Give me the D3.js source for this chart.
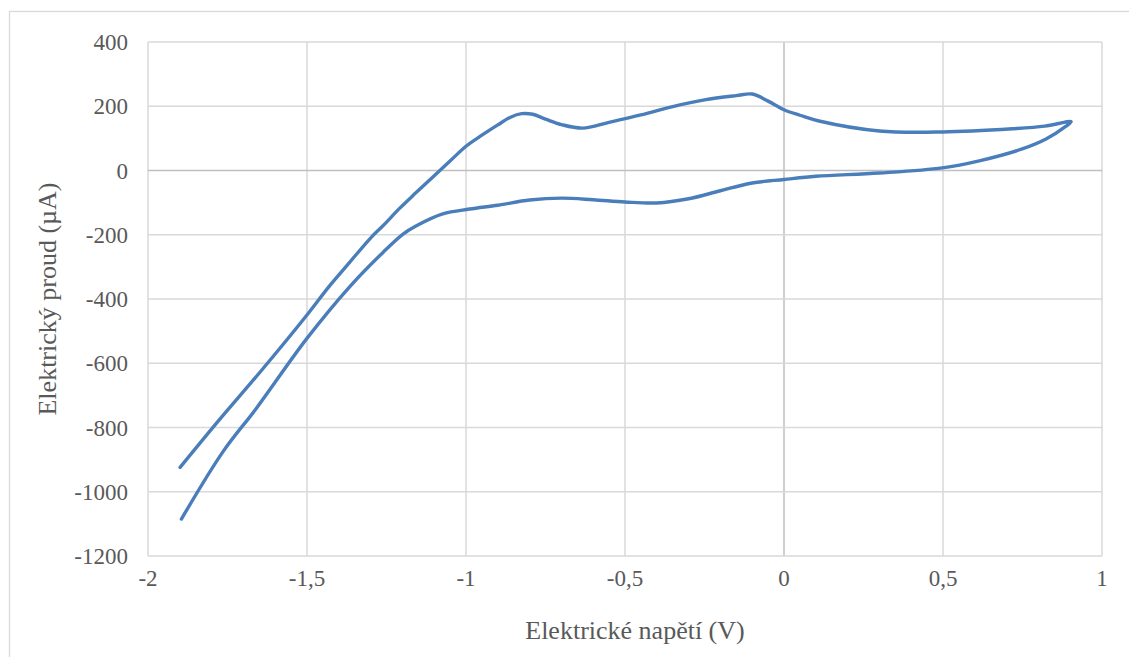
<html>
<head>
<meta charset="utf-8">
<title>Elektrický proud vs napětí</title>
<script src="https://d3js.org/d3.v7.min.js" charset="utf-8"></script>
<style>
body { margin: 0; background: white; }
text { font-family: "Liberation Serif", "Tinos", "Times New Roman", "DejaVu Serif", serif; }
</style>
</head>
<body>
<script>
// forward scan (upper branch), left -> right
var upperX = [-1.899, -1.774, -1.648, -1.502, -1.429, -1.366, -1.298, -1.261, -1.209, -1.156, -1.052, -0.998, -0.950, -0.900, -0.860, -0.825, -0.790, -0.750, -0.700, -0.633, -0.550, -0.450, -0.350, -0.250, -0.150, -0.100, -0.050, 0.000, 0.050, 0.110, 0.300, 0.498, 0.718, 0.820, 0.903];
var upperY = [-924, -774, -628, -452, -359, -286, -208, -172, -118, -68, 28, 77, 110, 142, 166, 177, 175, 160, 143, 132, 150, 173, 199, 220, 233, 238, 216, 189, 172, 154, 123, 120, 130, 138, 152];
// reverse scan (lower branch), right -> left
var lowerX = [0.887, 0.824, 0.749, 0.614, 0.498, 0.300, 0.100, 0.000, -0.100, -0.200, -0.300, -0.400, -0.500, -0.600, -0.700, -0.800, -0.900, -0.989, -1.073, -1.156, -1.198, -1.261, -1.366, -1.502, -1.659, -1.764, -1.895];
var lowerY = [138, 98, 67, 30, 8, -8, -18, -28, -39, -63, -88, -101, -98, -91, -86, -92, -108, -120, -135, -172, -198, -255, -362, -525, -740, -875, -1085];

var xTicks = [-2, -1.5, -1, -0.5, 0, 0.5, 1];
var yTicks = [-1200, -1000, -800, -600, -400, -200, 0, 200, 400];

var width = 1129, height = 657;
var plotL = 148, plotR = 1102, plotT = 42, plotB = 556;

var svg = d3.select("body").append("svg")
  .attr("width", width)
  .attr("height", height);

// chart frame
svg.append("rect")
  .attr("x", 9.5).attr("y", 11.5)
  .attr("width", 1140).attr("height", 660)
  .attr("fill", "white").attr("stroke", "#d9d9d9").attr("stroke-width", 1.3);

var x = d3.scaleLinear().domain([-2, 1]).range([plotL, plotR]);
var y = d3.scaleLinear().domain([-1200, 400]).range([plotB, plotT]);

var fmt = function(d) { return String(d).replace(".", ","); };

// gridlines
svg.append("g").selectAll("line")
  .data(xTicks).enter().append("line")
  .attr("x1", function(d) { return x(d); }).attr("x2", function(d) { return x(d); })
  .attr("y1", plotT).attr("y2", plotB)
  .attr("stroke", function(d) { return d === 0 ? "#bfbfbf" : "#d9d9d9"; })
  .attr("stroke-width", 1.5);

svg.append("g").selectAll("line")
  .data(yTicks).enter().append("line")
  .attr("x1", plotL).attr("x2", plotR)
  .attr("y1", function(d) { return y(d); }).attr("y2", function(d) { return y(d); })
  .attr("stroke", function(d) { return d === 0 ? "#bfbfbf" : "#d9d9d9"; })
  .attr("stroke-width", 1.5);

// tick labels
svg.append("g").selectAll("text")
  .data(yTicks).enter().append("text")
  .attr("x", plotL - 20).attr("y", function(d) { return y(d); })
  .attr("dy", "0.35em")
  .attr("text-anchor", "end")
  .attr("fill", "#595959").attr("font-size", 23)
  .text(fmt);

svg.append("g").selectAll("text")
  .data(xTicks).enter().append("text")
  .attr("x", function(d) { return x(d); }).attr("y", 586)
  .attr("text-anchor", "middle")
  .attr("fill", "#595959").attr("font-size", 23)
  .text(fmt);

// axis titles
svg.append("text")
  .attr("x", 635).attr("y", 639)
  .attr("text-anchor", "middle")
  .attr("fill", "#595959").attr("font-size", 26)
  .text("Elektrické napětí (V)");

svg.append("text")
  .attr("transform", "translate(56," + ((plotT + plotB) / 2) + ") rotate(-90)")
  .attr("text-anchor", "middle")
  .attr("fill", "#595959").attr("font-size", 26)
  .text("Elektrický proud (µA)");

// the loop
var pts = upperX.map(function(v, i) { return [v, upperY[i]]; })
  .concat(lowerX.map(function(v, i) { return [v, lowerY[i]]; }));

var line = d3.line()
  .x(function(d) { return x(d[0]); })
  .y(function(d) { return y(d[1]); })
  .curve(d3.curveCatmullRom.alpha(0.5));

svg.append("path")
  .datum(pts)
  .attr("d", line)
  .attr("fill", "none")
  .attr("stroke", "#4a7ebb")
  .attr("stroke-width", 3.4)
  .attr("stroke-linecap", "round")
  .attr("stroke-linejoin", "round");
</script>
</body>
</html>
